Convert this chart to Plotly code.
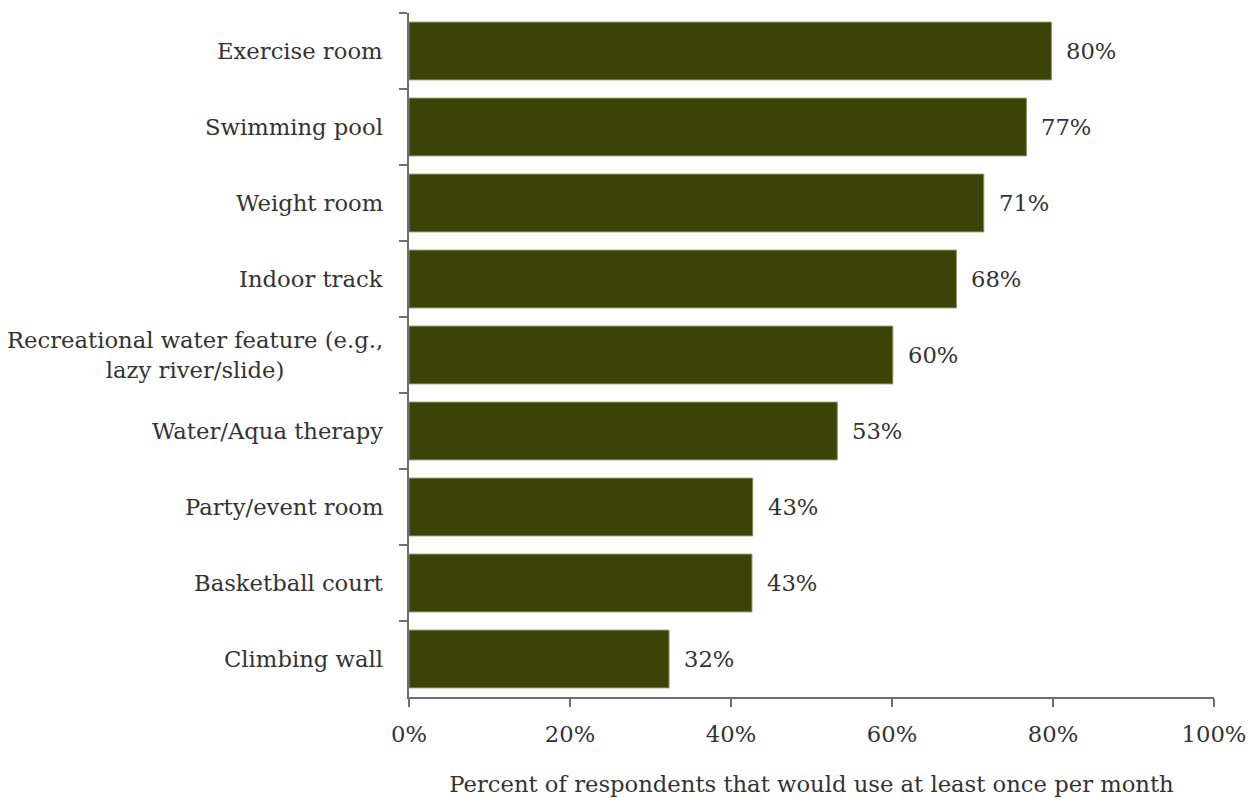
import plotly.graph_objects as go

# Survey results: share of respondents who would use each amenity monthly
amenities = [
    "Exercise room",
    "Swimming pool",
    "Weight room",
    "Indoor track",
    "Recreational water feature (e.g.,<br>lazy river/slide)",
    "Water/Aqua therapy",
    "Party/event room",
    "Basketball court",
    "Climbing wall",
]
pct_monthly = [79.8, 76.7, 71.4, 68.0, 60.1, 53.2, 42.7, 42.6, 32.3]

x_ticks = [0, 20, 40, 60, 80, 100]
x_tick_text = [f"{v}%" for v in x_ticks]

BAR = "#3b4306"
EDGE = "#8a9166"
TEXT = "#333333"
AXIS = "#6e6e6e"
FONT = "DejaVu Serif"
FS = 22.7

fig = go.Figure(
    go.Bar(
        x=pct_monthly,
        y=amenities,
        orientation="h",
        width=0.76,
        marker=dict(color=BAR, line=dict(color=EDGE, width=1)),
        hoverinfo="skip",
    )
)

annotations = []
# Category labels, centred line-by-line and right-aligned to the axis
for name in amenities:
    annotations.append(
        dict(
            x=0, xref="paper", y=name, yref="y",
            text=name, showarrow=False,
            xanchor="right", yanchor="middle", align="center",
            xshift=-24,
            font=dict(family=FONT, size=FS, color=TEXT),
        )
    )
# Value labels to the right of each bar
for name, v in zip(amenities, pct_monthly):
    annotations.append(
        dict(
            x=v, xref="x", y=name, yref="y",
            text=f"{round(v)}%", showarrow=False,
            xanchor="left", yanchor="middle",
            xshift=13,
            font=dict(family=FONT, size=FS, color=TEXT),
        )
    )

fig.update_layout(
    width=1255,
    height=802,
    margin=dict(l=409, r=41, t=13, b=105),
    paper_bgcolor="white",
    plot_bgcolor="white",
    showlegend=False,
    font=dict(family=FONT, size=FS, color=TEXT),
    annotations=annotations,
    xaxis=dict(
        range=[0, 100],
        automargin=False,
        tickvals=x_ticks,
        ticktext=x_tick_text,
        ticks="outside",
        ticklen=8,
        tickwidth=2,
        tickcolor=AXIS,
        ticklabelstandoff=8,
        showline=True,
        linecolor=AXIS,
        linewidth=2,
        showgrid=False,
        zeroline=False,
        tickfont=dict(family=FONT, size=FS, color=TEXT),
        title=dict(
            text="Percent of respondents that would use at least once per month",
            font=dict(family=FONT, size=FS, color=TEXT),
            standoff=30,
        ),
    ),
    yaxis=dict(
        type="category",
        automargin=False,
        categoryorder="array",
        categoryarray=amenities,
        autorange="reversed",
        tickson="boundaries",
        ticks="outside",
        ticklen=8,
        tickwidth=2,
        tickcolor=AXIS,
        showticklabels=False,
        showline=True,
        linecolor=AXIS,
        linewidth=2,
        showgrid=False,
        zeroline=False,
    ),
)

fig.write_html("out.html")
